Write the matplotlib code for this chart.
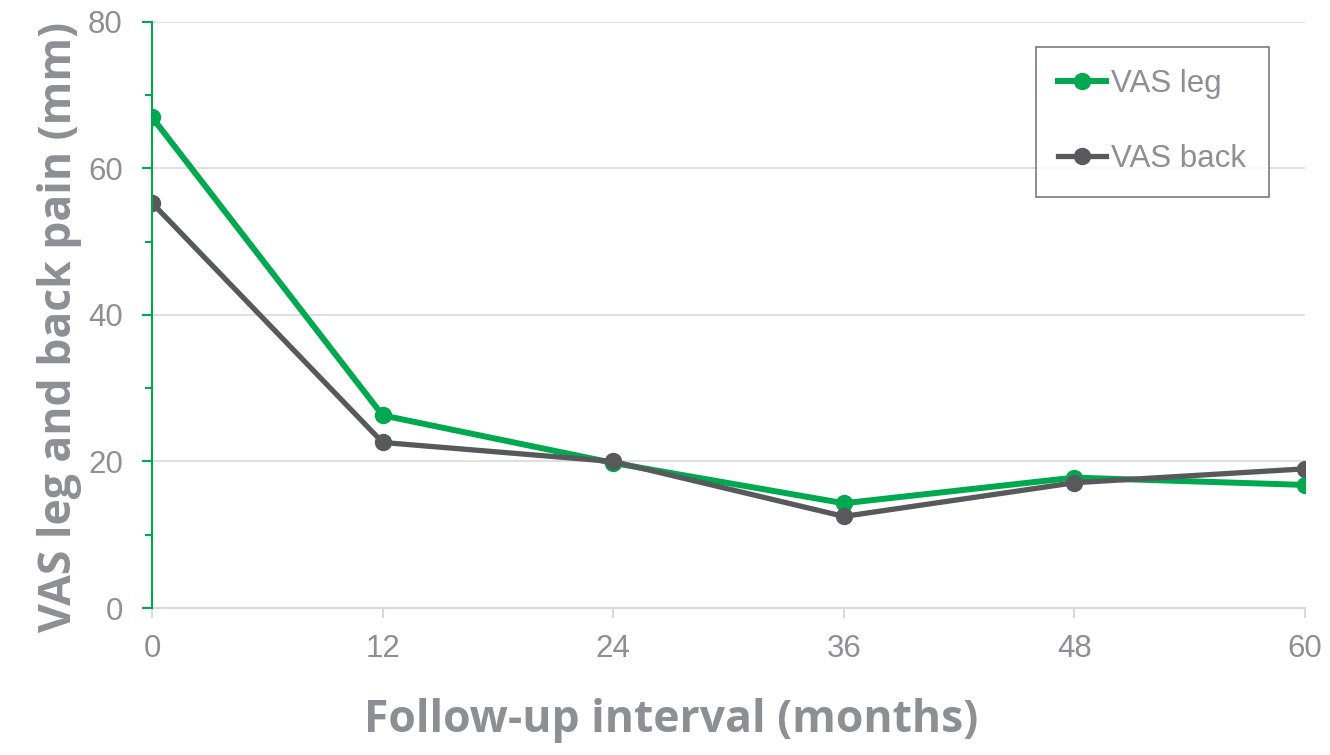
import numpy as np
import matplotlib.pyplot as plt
from matplotlib.ticker import MultipleLocator

months = [0, 12, 24, 36, 48, 60]
vas_leg = [67.0, 26.3, 19.8, 14.3, 17.8, 16.8]
vas_back = [55.3, 22.6, 20.0, 12.5, 17.1, 19.0]

green = '#00A84F'
dark = '#58595B'
txt = '#8E8E95'

plt.rcParams['font.family'] = ['Liberation Sans', 'DejaVu Sans']

fig = plt.figure(figsize=(13.3, 7.55), dpi=100)
ax = fig.add_axes([0.1143, 0.1947, 0.9812 - 0.1143, 0.9709 - 0.1947])

ax.plot(months, vas_leg, color=green, lw=4.3, marker='o', ms=11.5, label='VAS leg', zorder=3)
ax.plot(months, vas_back, color=dark, lw=3.8, marker='o', ms=11.5, label='VAS back', zorder=4)

ax.set_xlim(0, 60)
ax.set_ylim(0, 80)
ax.set_xticks(months)
ax.yaxis.set_major_locator(MultipleLocator(20))
ax.yaxis.set_minor_locator(MultipleLocator(10))
ax.grid(axis='y', color='#D9D9D9', lw=1.2)
ax.set_axisbelow(True)

for s in ['top', 'right']:
    ax.spines[s].set_visible(False)
ax.spines['left'].set_color(green)
ax.spines['left'].set_linewidth(1.5)
ax.spines['bottom'].set_color('#D9D9D9')
ax.spines['bottom'].set_linewidth(1.5)
ax.spines['left'].set_zorder(5)

ax.tick_params(axis='y', which='major', colors=green, length=7, width=1.5, labelcolor=txt, labelsize=22.5, pad=14)
ax.tick_params(axis='y', which='minor', colors=green, length=5, width=1.5)
ax.tick_params(axis='x', colors='#D9D9D9', length=7, width=1.5, labelcolor=txt, labelsize=22.5, pad=12)

ax.set_xlabel('Follow-up interval (months)', fontsize=32, fontweight='bold',
              color=txt, family='Open Sans', labelpad=24)
ax.xaxis.label.set_x(0.45)
ax.set_ylabel('VAS leg and back pain (mm)', fontsize=32, fontweight='bold',
              color=txt, family='Open Sans', labelpad=4)
ax.yaxis.label.set_y(0.48)

leg = ax.legend(loc='upper right', bbox_to_anchor=(0.9685, 0.958), fontsize=22.5,
                frameon=True, fancybox=False, labelspacing=1.45,
                borderpad=0.72, handlelength=1.55, handletextpad=0.15, borderaxespad=0)
leg.get_frame().set_edgecolor('#595959')
leg.get_frame().set_linewidth(1.2)
for t in leg.get_texts():
    t.set_color(txt)

plt.savefig('out.png', dpi=100)
